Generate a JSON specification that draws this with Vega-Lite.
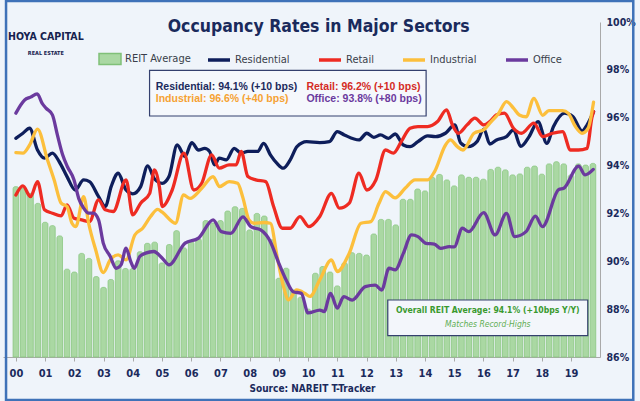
{
"$schema": "https://vega.github.io/schema/vega-lite/v6.json",
"width": 597, "height": 335,
"autosize": {"type": "none"},
"padding": {"left": 3, "top": 22, "right": 40, "bottom": 44},
"background": "#eff4fa",
"datasets": {
"avg": [
{"t":2000.00,"v":93.12},{"t":2000.25,"v":93.05},{"t":2000.50,"v":92.84},{"t":2000.75,"v":92.42},
{"t":2001.00,"v":91.63},{"t":2001.25,"v":91.49},{"t":2001.50,"v":91.06},{"t":2001.75,"v":89.67},
{"t":2002.00,"v":89.55},{"t":2002.25,"v":90.33},{"t":2002.50,"v":90.12},{"t":2002.75,"v":89.36},
{"t":2003.00,"v":88.91},{"t":2003.25,"v":89.24},{"t":2003.50,"v":90.02},{"t":2003.75,"v":89.70},
{"t":2004.00,"v":89.70},{"t":2004.25,"v":90.40},{"t":2004.50,"v":90.75},{"t":2004.75,"v":90.80},
{"t":2005.00,"v":89.93},{"t":2005.25,"v":90.70},{"t":2005.50,"v":91.28},{"t":2005.75,"v":90.56},
{"t":2006.00,"v":90.82},{"t":2006.25,"v":90.95},{"t":2006.50,"v":91.70},{"t":2006.75,"v":91.60},
{"t":2007.00,"v":91.70},{"t":2007.25,"v":92.10},{"t":2007.50,"v":92.28},{"t":2007.75,"v":92.21},
{"t":2008.00,"v":91.31},{"t":2008.25,"v":92.00},{"t":2008.50,"v":91.89},{"t":2008.75,"v":90.90},
{"t":2009.00,"v":89.29},{"t":2009.25,"v":89.71},{"t":2009.50,"v":88.80},{"t":2009.75,"v":88.50},
{"t":2010.00,"v":88.00},{"t":2010.25,"v":89.50},{"t":2010.50,"v":89.78},{"t":2010.75,"v":89.55},
{"t":2011.00,"v":88.97},{"t":2011.25,"v":89.94},{"t":2011.50,"v":90.36},{"t":2011.75,"v":90.33},
{"t":2012.00,"v":90.26},{"t":2012.25,"v":91.14},{"t":2012.50,"v":91.75},{"t":2012.75,"v":91.75},
{"t":2013.00,"v":91.52},{"t":2013.25,"v":92.59},{"t":2013.50,"v":92.59},{"t":2013.75,"v":93.02},
{"t":2014.00,"v":92.94},{"t":2014.25,"v":93.51},{"t":2014.50,"v":93.63},{"t":2014.75,"v":93.40},
{"t":2015.00,"v":93.15},{"t":2015.25,"v":93.61},{"t":2015.50,"v":93.51},{"t":2015.75,"v":93.51},
{"t":2016.00,"v":93.43},{"t":2016.25,"v":93.84},{"t":2016.50,"v":93.93},{"t":2016.75,"v":93.82},
{"t":2017.00,"v":93.61},{"t":2017.25,"v":93.65},{"t":2017.50,"v":93.93},{"t":2017.75,"v":93.98},
{"t":2018.00,"v":93.64},{"t":2018.25,"v":94.07},{"t":2018.50,"v":94.16},{"t":2018.75,"v":94.07},
{"t":2019.00,"v":93.61},{"t":2019.25,"v":94.07},{"t":2019.50,"v":94.02},{"t":2019.75,"v":94.09}
],
"lines": [
{"k":"Residential","t":2000.0,"v":95.14},{"k":"Residential","t":2000.24,"v":95.35},{"k":"Residential","t":2000.47,"v":95.56},{"k":"Residential","t":2000.74,"v":94.65},{"k":"Residential","t":2000.98,"v":94.31},{"k":"Residential","t":2001.25,"v":94.52},{"k":"Residential","t":2001.48,"v":94.17},{"k":"Residential","t":2001.75,"v":93.54},{"k":"Residential","t":2002.03,"v":92.98},{"k":"Residential","t":2002.32,"v":93.4},{"k":"Residential","t":2002.52,"v":93.33},{"k":"Residential","t":2002.83,"v":92.7},{"k":"Residential","t":2003.06,"v":92.29},{"k":"Residential","t":2003.26,"v":93.12},{"k":"Residential","t":2003.5,"v":93.68},{"k":"Residential","t":2003.77,"v":92.98},{"k":"Residential","t":2004.0,"v":92.82},{"k":"Residential","t":2004.27,"v":93.12},{"k":"Residential","t":2004.51,"v":93.99},{"k":"Residential","t":2004.74,"v":93.45},{"k":"Residential","t":2005.01,"v":93.26},{"k":"Residential","t":2005.24,"v":93.54},{"k":"Residential","t":2005.52,"v":94.86},{"k":"Residential","t":2005.79,"v":94.38},{"k":"Residential","t":2006.02,"v":94.96},{"k":"Residential","t":2006.25,"v":94.65},{"k":"Residential","t":2006.46,"v":94.72},{"k":"Residential","t":2006.63,"v":94.59},{"k":"Residential","t":2006.8,"v":94.03},{"k":"Residential","t":2006.96,"v":94.31},{"k":"Residential","t":2007.2,"v":94.24},{"k":"Residential","t":2007.47,"v":94.72},{"k":"Residential","t":2007.71,"v":94.52},{"k":"Residential","t":2007.94,"v":94.59},{"k":"Residential","t":2008.27,"v":94.59},{"k":"Residential","t":2008.48,"v":94.93},{"k":"Residential","t":2008.71,"v":94.45},{"k":"Residential","t":2008.93,"v":94.1},{"k":"Residential","t":2009.15,"v":93.89},{"k":"Residential","t":2009.39,"v":94.24},{"k":"Residential","t":2009.62,"v":94.79},{"k":"Residential","t":2009.95,"v":95.0},{"k":"Residential","t":2010.4,"v":94.96},{"k":"Residential","t":2010.73,"v":95.0},{"k":"Residential","t":2011.0,"v":95.42},{"k":"Residential","t":2011.24,"v":95.28},{"k":"Residential","t":2011.74,"v":95.07},{"k":"Residential","t":2012.01,"v":95.35},{"k":"Residential","t":2012.25,"v":95.18},{"k":"Residential","t":2012.48,"v":95.28},{"k":"Residential","t":2012.75,"v":95.14},{"k":"Residential","t":2012.98,"v":95.32},{"k":"Residential","t":2013.26,"v":94.86},{"k":"Residential","t":2013.49,"v":94.79},{"k":"Residential","t":2013.76,"v":95.0},{"k":"Residential","t":2014.09,"v":95.24},{"k":"Residential","t":2014.36,"v":95.21},{"k":"Residential","t":2014.7,"v":95.35},{"k":"Residential","t":2015.02,"v":95.7},{"k":"Residential","t":2015.22,"v":94.95},{"k":"Residential","t":2015.48,"v":94.79},{"k":"Residential","t":2015.78,"v":95.0},{"k":"Residential","t":2016.02,"v":95.52},{"k":"Residential","t":2016.22,"v":94.9},{"k":"Residential","t":2016.45,"v":95.07},{"k":"Residential","t":2016.79,"v":95.21},{"k":"Residential","t":2017.03,"v":95.49},{"k":"Residential","t":2017.28,"v":94.8},{"k":"Residential","t":2017.56,"v":95.2},{"k":"Residential","t":2017.87,"v":95.84},{"k":"Residential","t":2018.17,"v":94.93},{"k":"Residential","t":2018.4,"v":95.63},{"k":"Residential","t":2018.78,"v":96.19},{"k":"Residential","t":2019.06,"v":96.05},{"k":"Residential","t":2019.38,"v":95.45},{"k":"Residential","t":2019.55,"v":95.7},{"k":"Residential","t":2019.77,"v":96.25},
{"k":"Retail","t":2000.0,"v":92.77},{"k":"Retail","t":2000.24,"v":93.15},{"k":"Retail","t":2000.5,"v":92.7},{"k":"Retail","t":2000.74,"v":93.33},{"k":"Retail","t":2000.98,"v":92.15},{"k":"Retail","t":2001.25,"v":92.01},{"k":"Retail","t":2001.55,"v":91.9},{"k":"Retail","t":2001.75,"v":92.36},{"k":"Retail","t":2001.99,"v":91.8},{"k":"Retail","t":2002.25,"v":91.73},{"k":"Retail","t":2002.52,"v":91.66},{"k":"Retail","t":2002.83,"v":92.57},{"k":"Retail","t":2003.06,"v":92.15},{"k":"Retail","t":2003.33,"v":92.08},{"k":"Retail","t":2003.77,"v":93.4},{"k":"Retail","t":2004.0,"v":91.94},{"k":"Retail","t":2004.27,"v":92.43},{"k":"Retail","t":2004.58,"v":92.84},{"k":"Retail","t":2004.74,"v":93.82},{"k":"Retail","t":2004.91,"v":93.12},{"k":"Retail","t":2005.01,"v":92.29},{"k":"Retail","t":2005.35,"v":92.98},{"k":"Retail","t":2005.75,"v":94.52},{"k":"Retail","t":2006.09,"v":92.98},{"k":"Retail","t":2006.36,"v":93.26},{"k":"Retail","t":2006.7,"v":94.45},{"k":"Retail","t":2006.96,"v":93.89},{"k":"Retail","t":2007.3,"v":94.03},{"k":"Retail","t":2007.54,"v":94.03},{"k":"Retail","t":2007.71,"v":94.59},{"k":"Retail","t":2007.94,"v":93.54},{"k":"Retail","t":2008.21,"v":93.4},{"k":"Retail","t":2008.55,"v":93.33},{"k":"Retail","t":2008.82,"v":92.29},{"k":"Retail","t":2009.12,"v":91.38},{"k":"Retail","t":2009.39,"v":91.38},{"k":"Retail","t":2009.72,"v":91.87},{"k":"Retail","t":2010.03,"v":91.45},{"k":"Retail","t":2010.4,"v":91.87},{"k":"Retail","t":2010.8,"v":92.84},{"k":"Retail","t":2011.07,"v":92.22},{"k":"Retail","t":2011.41,"v":92.43},{"k":"Retail","t":2011.74,"v":93.68},{"k":"Retail","t":2012.01,"v":92.98},{"k":"Retail","t":2012.32,"v":93.4},{"k":"Retail","t":2012.65,"v":94.65},{"k":"Retail","t":2012.92,"v":94.52},{"k":"Retail","t":2013.19,"v":95.0},{"k":"Retail","t":2013.49,"v":95.56},{"k":"Retail","t":2013.76,"v":95.63},{"k":"Retail","t":2014.09,"v":95.63},{"k":"Retail","t":2014.43,"v":95.84},{"k":"Retail","t":2014.74,"v":96.33},{"k":"Retail","t":2014.94,"v":95.7},{"k":"Retail","t":2015.14,"v":95.35},{"k":"Retail","t":2015.44,"v":95.7},{"k":"Retail","t":2015.71,"v":95.98},{"k":"Retail","t":2016.02,"v":95.7},{"k":"Retail","t":2016.22,"v":95.84},{"k":"Retail","t":2016.45,"v":96.12},{"k":"Retail","t":2016.72,"v":96.19},{"k":"Retail","t":2017.03,"v":95.56},{"k":"Retail","t":2017.3,"v":95.35},{"k":"Retail","t":2017.73,"v":95.77},{"k":"Retail","t":2018.03,"v":95.21},{"k":"Retail","t":2018.37,"v":95.35},{"k":"Retail","t":2018.71,"v":95.42},{"k":"Retail","t":2018.98,"v":94.65},{"k":"Retail","t":2019.25,"v":94.65},{"k":"Retail","t":2019.55,"v":94.72},{"k":"Retail","t":2019.71,"v":95.98},{"k":"Retail","t":2019.77,"v":96.26},
{"k":"Industrial","t":2000.0,"v":94.54},{"k":"Industrial","t":2000.24,"v":94.52},{"k":"Industrial","t":2000.47,"v":94.86},{"k":"Industrial","t":2000.74,"v":95.52},{"k":"Industrial","t":2001.08,"v":94.24},{"k":"Industrial","t":2001.31,"v":93.4},{"k":"Industrial","t":2001.55,"v":92.43},{"k":"Industrial","t":2001.75,"v":92.29},{"k":"Industrial","t":2001.92,"v":91.59},{"k":"Industrial","t":2002.05,"v":91.45},{"k":"Industrial","t":2002.32,"v":92.7},{"k":"Industrial","t":2002.49,"v":91.59},{"k":"Industrial","t":2002.73,"v":90.48},{"k":"Industrial","t":2002.99,"v":89.53},{"k":"Industrial","t":2003.23,"v":90.06},{"k":"Industrial","t":2003.5,"v":90.27},{"k":"Industrial","t":2003.77,"v":90.06},{"k":"Industrial","t":2004.07,"v":91.1},{"k":"Industrial","t":2004.34,"v":91.38},{"k":"Industrial","t":2004.61,"v":91.87},{"k":"Industrial","t":2004.85,"v":92.17},{"k":"Industrial","t":2005.01,"v":92.05},{"k":"Industrial","t":2005.46,"v":91.59},{"k":"Industrial","t":2005.74,"v":92.77},{"k":"Industrial","t":2005.96,"v":92.63},{"k":"Industrial","t":2006.36,"v":93.05},{"k":"Industrial","t":2006.75,"v":93.54},{"k":"Industrial","t":2006.97,"v":93.12},{"k":"Industrial","t":2007.3,"v":93.33},{"k":"Industrial","t":2007.59,"v":93.26},{"k":"Industrial","t":2007.76,"v":92.7},{"k":"Industrial","t":2007.98,"v":91.73},{"k":"Industrial","t":2008.15,"v":91.59},{"k":"Industrial","t":2008.49,"v":91.62},{"k":"Industrial","t":2008.71,"v":91.59},{"k":"Industrial","t":2008.94,"v":90.2},{"k":"Industrial","t":2009.16,"v":88.94},{"k":"Industrial","t":2009.33,"v":88.39},{"k":"Industrial","t":2009.61,"v":88.8},{"k":"Industrial","t":2009.89,"v":88.66},{"k":"Industrial","t":2010.06,"v":88.53},{"k":"Industrial","t":2010.4,"v":89.22},{"k":"Industrial","t":2010.8,"v":90.06},{"k":"Industrial","t":2011.0,"v":89.57},{"k":"Industrial","t":2011.41,"v":90.34},{"k":"Industrial","t":2011.81,"v":91.59},{"k":"Industrial","t":2012.15,"v":91.66},{"k":"Industrial","t":2012.42,"v":92.4},{"k":"Industrial","t":2012.65,"v":92.91},{"k":"Industrial","t":2012.98,"v":92.65},{"k":"Industrial","t":2013.32,"v":93.05},{"k":"Industrial","t":2013.66,"v":93.4},{"k":"Industrial","t":2014.09,"v":93.4},{"k":"Industrial","t":2014.33,"v":93.75},{"k":"Industrial","t":2014.7,"v":94.85},{"k":"Industrial","t":2014.87,"v":95.07},{"k":"Industrial","t":2015.11,"v":94.79},{"k":"Industrial","t":2015.3,"v":94.65},{"k":"Industrial","t":2015.68,"v":95.35},{"k":"Industrial","t":2016.02,"v":95.5},{"k":"Industrial","t":2016.22,"v":95.77},{"k":"Industrial","t":2016.52,"v":96.18},{"k":"Industrial","t":2016.79,"v":96.67},{"k":"Industrial","t":2017.03,"v":96.4},{"k":"Industrial","t":2017.23,"v":96.11},{"k":"Industrial","t":2017.46,"v":96.04},{"k":"Industrial","t":2017.73,"v":96.81},{"k":"Industrial","t":2018.03,"v":96.1},{"k":"Industrial","t":2018.24,"v":96.3},{"k":"Industrial","t":2018.71,"v":96.3},{"k":"Industrial","t":2018.91,"v":96.18},{"k":"Industrial","t":2019.15,"v":95.63},{"k":"Industrial","t":2019.38,"v":95.35},{"k":"Industrial","t":2019.58,"v":95.55},{"k":"Industrial","t":2019.77,"v":96.65},
{"k":"Office","t":2000.0,"v":96.19},{"k":"Office","t":2000.3,"v":96.74},{"k":"Office","t":2000.5,"v":96.86},{"k":"Office","t":2000.73,"v":97.0},{"k":"Office","t":2000.9,"v":96.6},{"k":"Office","t":2001.03,"v":96.4},{"k":"Office","t":2001.25,"v":96.12},{"k":"Office","t":2001.42,"v":95.28},{"k":"Office","t":2001.6,"v":94.45},{"k":"Office","t":2001.76,"v":93.96},{"k":"Office","t":2001.99,"v":93.4},{"k":"Office","t":2002.15,"v":92.63},{"k":"Office","t":2002.32,"v":92.22},{"k":"Office","t":2002.49,"v":92.01},{"k":"Office","t":2002.65,"v":92.01},{"k":"Office","t":2002.83,"v":91.73},{"k":"Office","t":2002.99,"v":90.76},{"k":"Office","t":2003.23,"v":90.2},{"k":"Office","t":2003.43,"v":89.71},{"k":"Office","t":2003.6,"v":89.85},{"k":"Office","t":2003.77,"v":90.55},{"k":"Office","t":2003.93,"v":89.99},{"k":"Office","t":2004.05,"v":89.71},{"k":"Office","t":2004.24,"v":90.2},{"k":"Office","t":2004.44,"v":90.34},{"k":"Office","t":2004.72,"v":90.41},{"k":"Office","t":2005.01,"v":90.13},{"k":"Office","t":2005.24,"v":89.85},{"k":"Office","t":2005.79,"v":90.76},{"k":"Office","t":2006.25,"v":90.97},{"k":"Office","t":2006.75,"v":91.73},{"k":"Office","t":2007.03,"v":91.24},{"k":"Office","t":2007.36,"v":91.17},{"k":"Office","t":2007.77,"v":91.86},{"k":"Office","t":2008.04,"v":91.45},{"k":"Office","t":2008.38,"v":91.31},{"k":"Office","t":2008.71,"v":90.82},{"k":"Office","t":2008.98,"v":89.98},{"k":"Office","t":2009.25,"v":89.22},{"k":"Office","t":2009.49,"v":88.73},{"k":"Office","t":2009.77,"v":88.66},{"k":"Office","t":2010.0,"v":87.84},{"k":"Office","t":2010.4,"v":87.96},{"k":"Office","t":2010.55,"v":87.9},{"k":"Office","t":2010.77,"v":88.66},{"k":"Office","t":2011.0,"v":88.04},{"k":"Office","t":2011.22,"v":88.52},{"k":"Office","t":2011.51,"v":88.38},{"k":"Office","t":2011.96,"v":88.94},{"k":"Office","t":2012.3,"v":89.0},{"k":"Office","t":2012.52,"v":88.8},{"k":"Office","t":2012.77,"v":89.71},{"k":"Office","t":2012.98,"v":89.64},{"k":"Office","t":2013.26,"v":90.33},{"k":"Office","t":2013.54,"v":91.1},{"k":"Office","t":2013.76,"v":91.03},{"k":"Office","t":2014.04,"v":90.75},{"k":"Office","t":2014.32,"v":90.72},{"k":"Office","t":2014.54,"v":90.54},{"k":"Office","t":2014.83,"v":90.61},{"k":"Office","t":2015.0,"v":90.6},{"k":"Office","t":2015.28,"v":91.38},{"k":"Office","t":2015.5,"v":91.24},{"k":"Office","t":2016.01,"v":92.03},{"k":"Office","t":2016.4,"v":91.1},{"k":"Office","t":2016.79,"v":92.0},{"k":"Office","t":2017.07,"v":91.03},{"k":"Office","t":2017.46,"v":91.24},{"k":"Office","t":2017.78,"v":91.89},{"k":"Office","t":2018.02,"v":91.45},{"k":"Office","t":2018.58,"v":93.0},{"k":"Office","t":2018.75,"v":93.05},{"k":"Office","t":2019.26,"v":93.98},{"k":"Office","t":2019.48,"v":93.61},{"k":"Office","t":2019.76,"v":93.84}
]
},
"encoding": {
  "x": {"type": "quantitative", "scale": {"domain": [1999.73, 2019.82], "nice": false, "zero": false},
        "axis": {"orient": "bottom", "values": [2000,2001,2002,2003,2004,2005,2006,2007,2008,2009,2010,2011,2012,2013,2014,2015,2016,2017,2018,2019],
                 "labelExpr": "datum.value < 2010 ? '0' + (datum.value - 2000) : '' + (datum.value - 2000)",
                 "labelFontSize": 11, "labelPadding": 6,
                 "title": "Source: NAREIT T-Tracker", "titleFontSize": 10, "titleX": 309, "titleY": 31, "titleBaseline": "middle", "titleAnchor": "middle"}},
  "y": {"type": "quantitative", "scale": {"domain": [86, 100], "nice": false, "zero": false},
        "axis": {"orient": "right", "values": [86,88,90,92,94,96,98,100], "labelExpr": "datum.value + '%'", "title": null, "tickSize": 0, "labelPadding": 6, "labelFontSize": 10.5}}
},
"layer": [
  {"data": {"values": [{}]},
   "mark": {"type": "rect", "fill": null, "stroke": "#3f72b8", "strokeWidth": 2.5},
   "encoding": {"x": {"datum": 1999.663}, "x2": {"datum": 2021.13}, "y": {"datum": 100.878}, "y2": {"datum": 84.204}}},
  {"data": {"name": "avg"},
   "mark": {"type": "bar", "size": 5.6, "cornerRadiusTopLeft": 2, "cornerRadiusTopRight": 2, "stroke": "#8ac682", "strokeWidth": 0.8},
   "encoding": {"x": {"field": "t"}, "y": {"field": "v"}, "y2": {"datum": 86},
     "fill": {"datum": "REIT Average", "scale": {"range": ["#aad8a3"]},
       "legend": {"orient": "none", "legendX": 95, "legendY": 25, "title": null, "symbolType": "M-1,-0.5L1,-0.5L1,0.5L-1,0.5Z", "symbolSize": 484, "symbolStrokeColor": "#80c078", "symbolStrokeWidth": 1.5, "labelOffset": 3}}}},
  {"data": {"values": [{}]},
   "mark": {"type": "rect", "fill": "#f5f8fc", "stroke": "#34406e", "strokeWidth": 1.2},
   "encoding": {"x": {"datum": 2004.575}, "x2": {"datum": 2014.04}, "y": {"datum": 97.982}, "y2": {"datum": 96.072}}},
  {"data": {"values": [{}]},
   "mark": {"type": "rect", "fill": "#f3f6fb", "stroke": "#34406e", "strokeWidth": 1.2},
   "encoding": {"x": {"datum": 2012.728}, "x2": {"datum": 2019.572}, "y": {"datum": 88.383}, "y2": {"datum": 86.891}}},
  {"data": {"name": "lines"},
   "mark": {"type": "line", "interpolate": "monotone", "strokeWidth": 3.3, "strokeCap": "round", "strokeJoin": "round"},
   "encoding": {"x": {"field": "t"}, "y": {"field": "v"},
     "stroke": {"field": "k", "type": "nominal", "scale": {"domain": ["Residential", "Retail", "Industrial", "Office"], "range": ["#0e1e5b", "#ee2b22", "#fcbf3c", "#6b3a9e"]},
       "legend": {"orient": "none", "legendX": 203, "legendY": 25, "direction": "horizontal", "title": null, "symbolType": "stroke", "symbolSize": 484, "symbolStrokeWidth": 3.5, "columnPadding": 22, "labelOffset": 3}}}},
  {"data": {"values": [{}]},
   "mark": {"type": "text", "align": "center", "baseline": "alphabetic", "font": "'DejaVu Sans Condensed', 'DejaVu Sans', sans-serif", "fontWeight": "bold", "fontSize": 17.5, "color": "#1a2a5c"},
   "encoding": {"x": {"datum": 2010.363}, "y": {"datum": 99.6}, "text": {"value": "Occupancy Rates in Major Sectors"}}},
  {"data": {"values": [{}]},
   "mark": {"type": "text", "align": "left", "baseline": "middle", "font": "'Liberation Sans', Arial, sans-serif", "fontWeight": "bold", "fontSize": 10.5, "color": "#1b2a5c"},
   "encoding": {"x": {"datum": 2004.787}, "y": {"datum": 97.271}, "text": {"value": "Residential: 94.1% (+10 bps)"}}},
  {"data": {"values": [{}]},
   "mark": {"type": "text", "align": "left", "baseline": "middle", "font": "'Liberation Sans', Arial, sans-serif", "fontWeight": "bold", "fontSize": 10.5, "color": "#f5a233"},
   "encoding": {"x": {"datum": 2004.787}, "y": {"datum": 96.77}, "text": {"value": "Industrial: 96.6% (+40 bps)"}}},
  {"data": {"values": [{}]},
   "mark": {"type": "text", "align": "left", "baseline": "middle", "font": "'Liberation Sans', Arial, sans-serif", "fontWeight": "bold", "fontSize": 10.5, "color": "#d42b25"},
   "encoding": {"x": {"datum": 2009.942}, "y": {"datum": 97.271}, "text": {"value": "Retail: 96.2% (+10 bps)"}}},
  {"data": {"values": [{}]},
   "mark": {"type": "text", "align": "left", "baseline": "middle", "font": "'Liberation Sans', Arial, sans-serif", "fontWeight": "bold", "fontSize": 10.5, "color": "#6b3a9e"},
   "encoding": {"x": {"datum": 2009.942}, "y": {"datum": 96.77}, "text": {"value": "Office: 93.8% (+80 bps)"}}},
  {"data": {"values": [{}]},
   "mark": {"type": "text", "align": "center", "baseline": "middle", "font": "'DejaVu Sans Condensed', 'DejaVu Sans', sans-serif", "fontWeight": "bold", "fontSize": 8.6, "color": "#3a9a2f"},
   "encoding": {"x": {"datum": 2016.15}, "y": {"datum": 87.944}, "text": {"value": "Overall REIT Average: 94.1% (+10bps Y/Y)"}}},
  {"data": {"values": [{}]},
   "mark": {"type": "text", "align": "center", "baseline": "middle", "font": "'DejaVu Sans Condensed', 'DejaVu Sans', sans-serif", "fontStyle": "italic", "fontSize": 8.5, "color": "#5fae54"},
   "encoding": {"x": {"datum": 2016.15}, "y": {"datum": 87.359}, "text": {"value": "Matches Record-Highs"}}},
  {"data": {"values": [{}]},
   "mark": {"type": "text", "align": "center", "baseline": "middle", "font": "'DejaVu Sans Condensed', 'DejaVu Sans', sans-serif", "fontWeight": "bold", "fontSize": 10.5, "color": "#16224f"},
   "encoding": {"x": {"datum": 2001.025}, "y": {"datum": 99.394}, "text": {"value": "HOYA CAPITAL"}}},
  {"data": {"values": [{}]},
   "mark": {"type": "text", "align": "center", "baseline": "middle", "font": "'DejaVu Sans Condensed', 'DejaVu Sans', sans-serif", "fontWeight": "bold", "fontSize": 5.5, "color": "#16224f"},
   "encoding": {"x": {"datum": 2001.025}, "y": {"datum": 98.725}, "text": {"value": "REAL ESTATE"}}}
],
"config": {
  "view": {"stroke": null},
  "axis": {"grid": false, "domainColor": "#a9a9a9", "tickColor": "#a9a9a9", "tickSize": 4,
           "labelFont": "'DejaVu Sans Condensed', 'DejaVu Sans', sans-serif", "labelFontWeight": "bold", "labelColor": "#1b2a5c",
           "titleFont": "'DejaVu Sans Condensed', 'DejaVu Sans', sans-serif", "titleFontWeight": "bold", "titleColor": "#1b2a5c"},
  "legend": {"labelFont": "'DejaVu Sans Condensed', 'DejaVu Sans', sans-serif", "labelFontSize": 11, "labelColor": "#3a3f4a"}
}
}
